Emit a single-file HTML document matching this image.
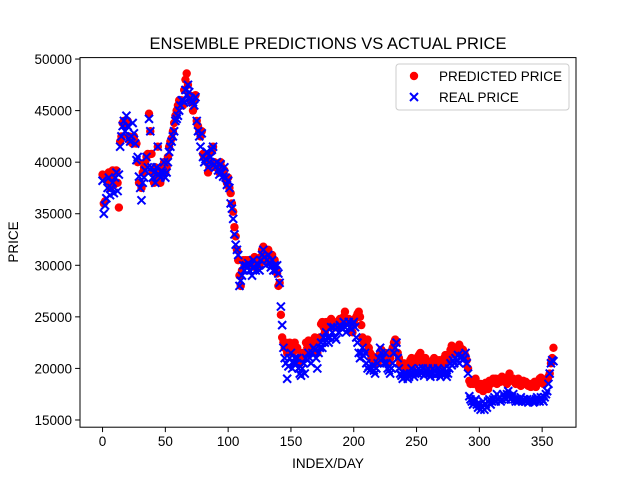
<!DOCTYPE html>
<html><head><meta charset="utf-8"><style>
body{margin:0;background:#fff;}
svg{display:block;font-family:"Liberation Sans","DejaVu Sans",sans-serif;}
</style></head><body>
<svg id="chart" width="640" height="480">
<rect width="640" height="480" fill="#fff"/>
<text x="328" y="49" font-size="16.5" text-anchor="middle">ENSEMBLE PREDICTIONS VS ACTUAL PRICE</text>
<g id="plot"></g>
<g id="xticks"></g>
<g id="yticks"></g>
<rect x="80" y="57.6" width="496" height="369.6" fill="none" stroke="#000" stroke-width="1"/>
<text x="328" y="468" font-size="13.5" text-anchor="middle">INDEX/DAY</text>
<text x="18" y="242" font-size="13.5" text-anchor="middle" transform="rotate(-90 18 242)">PRICE</text>
<g>
<rect x="396" y="64" width="173" height="46" rx="3" fill="#fff" fill-opacity="0.8" stroke="#ccc"/>
<g>
<circle cx="414" cy="76" r="4.2" fill="#ff0000"/>
<text x="439" y="81" font-size="13.5">PREDICTED PRICE</text></g>
<g>
<path d="M410,93L418,101M418,93L410,101" stroke="#0000ff" stroke-width="2"/>
<text x="439" y="102" font-size="13.5">REAL PRICE</text></g>
</g>
</svg>
<script>
const xTicks=[0,50,100,150,200,250,300,350];
const yTicks=[15000,20000,25000,30000,35000,40000,45000,50000];
const predicted=[38.8,36,36.2,38.5,38,39,37.5,38.5,39.2,37.8,
39,39.2,38,35.6,42,42.5,43.8,44,43.5,44,
44,42.5,42,42,41.8,42.5,42,41.8,40,38,
38,37.5,39,39.5,40,40.5,40.8,44.7,43,40.8,
39,38,39.5,38.5,41.5,39,38,38.5,39.5,40,
39,39.5,40.5,41.5,42,42.3,43,43.8,44.5,45,
45.5,46,46,46,45.5,47,48,48.6,47.5,46.5,
46,45.8,45,46,46.5,44,43.5,43,42.5,43,
40.8,40.5,40.5,40,39,39.5,40,41,41.5,40,
39.5,39.8,39.5,39,40,39.5,39,39.2,38.5,38,
38.5,37.5,37,36,35.2,33.7,32.8,31.5,30.5,29,
28,29.5,30.5,30,30.5,30.2,30.5,30,30.5,30.2,
30.5,30.8,29.8,30.5,30.5,30,30.8,31.5,31.8,31.2,
30.5,31,31.5,30.5,30.5,31,30,30.5,29.5,29.2,
28,28.3,25.2,23,22.5,22,22.5,21.5,22,22.5,
22,21.5,22,22.5,21.8,22,21,20.5,20.8,21.5,
21,21.5,22.5,22,22.7,22,21.5,22,22.5,23,
22.5,21.5,22.8,23,24.3,24.5,24,23.5,24.5,24.3,
24,24.2,24.8,24.5,24.5,24,24,24.5,24.3,24.8,
24.5,24.3,25,25.5,24.8,24.5,24.8,24.5,24.3,23.5,
24.5,24.8,25,25.3,25.5,25,24.2,23,22.5,22.8,
22.5,22.8,22,21.5,21,21.2,21,20.5,20.8,20.5,
21,21.5,21.8,21.5,21,21.5,21,20.5,20.8,21,
21.5,22,22.5,22.8,22.5,21.5,21,20.5,20.5,20.2,
20.5,20.2,20,20.3,20.5,20.8,21,20.5,20.3,20.5,
21,20.8,21.3,21.5,21,20.5,20.8,21,20.5,20.3,
20.5,20.3,20.5,20.8,21,20.5,20.3,20.5,20.8,20.5,
20.3,20.5,21,21.3,21,20.8,21.2,21.8,22.2,22,
21.8,22,21.5,21.8,22.3,22,21.5,21.8,21.5,21.2,
20.8,20,18.8,18.5,18.7,18.5,18.9,19,18.6,18.3,
18,18.5,18.2,17.8,18.3,18.6,18.5,18,18.8,18.5,
18.7,19,18.8,19,18.5,18.8,19,18.7,19.2,19,
18.8,19,18.5,19.2,19.5,19,18.8,19,18.7,18.5,
18.8,19,18.5,18.3,18.6,18.8,18.5,18.7,18.5,18.3,
18.5,18.2,18.4,18.5,18.7,18.2,18.5,18.8,19,19.1,
18.8,18.5,18.6,18.8,19,19.2,19.5,20.5,21,22];
const real=[38.2,35,35.8,36.5,37.5,38.5,36.8,37.5,38,37,
38.5,39,37.2,38.8,41.5,42.5,43.5,44,43,44.5,
43.5,42.3,42,42.5,43.8,42.8,41.8,40.2,40.5,38.6,
37.5,36.3,38,38.5,39.2,40.5,39.5,44.2,43,39.5,
38.5,39,38,39.5,41.5,38.8,38.5,39.2,39,40,
38.5,39,40,41,41.5,42,42.5,43,44,44.2,
44.5,45,45.5,46,46,45.8,47,46.5,47.5,46.8,
46.2,46,45.8,45.5,46.3,44,43,42.5,41.5,42.8,
40.5,40,40.3,41,39.5,40,40.5,41.2,41.5,39.8,
39.5,40,39.2,38.8,39.8,39,38.6,39.5,38.5,37.8,
38.2,37.5,36,35.5,34.5,33,32,31.5,31,28,
28.5,29,30,29.5,30,29.8,30.2,29.5,30,29,
30.5,29.8,29.5,30.2,30,29.5,30.5,31,31.5,30.8,
30,30.5,31,30.2,29.8,30.5,29.5,30,29.5,30,
29.2,28.3,26,24.2,22,21,20.5,19,20.2,21,
21.5,20,20.5,21,20.5,21,20,19.5,19.3,20,
20.5,19.5,21,20.8,21.5,21,20.5,21.5,22,21.8,
21,20,21.5,22,22.5,22,23,22.5,23.5,23,
22.5,23,24,23.5,24,23,22.8,24,23.5,24.2,
24,23.8,24.5,24,23.5,24.2,24.5,24,23.8,24.3,
24.5,24,23,22.5,21.5,21,21.5,22,21.2,21.5,
20.5,20,20.2,19.8,20,20.3,19.8,19.5,20,20.5,
21,22,21.5,21,20.5,21.5,20.5,20,19.8,19.5,
20,20.5,21.5,22,22.5,21,20,19.5,19.3,19,
19.5,19.2,19.5,19,19.2,19.5,20,19.5,19.2,19.5,
19.8,19.5,20,19.8,19.5,20,19.3,19.5,19.8,20,
19.5,19.2,19.5,20,19.8,19.3,19.5,20,19.5,19.2,
19.5,19.8,20,19.5,19.2,19.5,20,20.5,20.3,20.8,
20.5,21,20.8,21.3,20.5,21,21.2,20.8,21,21.5,
20.5,19.5,17.3,17,16.8,16.5,16.8,17,16.5,16.2,
16.5,16,16.3,16.8,16,16.5,16.2,16.8,17,16.5,
16.8,17,17.2,16.8,17.5,17,17.2,16.8,17,17.5,
17.2,17,17.5,17.8,17.3,17,17.2,17.5,17,16.8,
17,16.8,17,17.2,16.8,17,16.9,16.8,17,16.7,
16.8,17,16.9,16.7,16.8,17,17.2,16.9,16.8,17.2,
17,16.8,17.2,17.5,17.8,18.5,19.5,20.5,20.8,20.7];

const NS='http://www.w3.org/2000/svg';
const L=80,R=576,T=57.6,B=427.2;
const n=predicted.length;
const xmin=-(n-1)*0.05,xmax=(n-1)*1.05;
const ymin=14300,ymax=50140;
function xs(i){return L+(i-xmin)/(xmax-xmin)*(R-L);}
function ys(v){return B-(v-ymin)/(ymax-ymin)*(B-T);}
function mk(t,a){const e=document.createElementNS(NS,t);for(const k in a)e.setAttribute(k,a[k]);return e;}
const plot=document.getElementById('plot');
predicted.forEach((v,i)=>{
 const c=mk('circle',{cx:xs(i),cy:ys(v*1000),r:4.2,fill:'#ff0000'});
 
 
 plot.appendChild(c);
});
real.forEach((v,i)=>{
 const x=xs(i),y=ys(v*1000),d=4;
 const p=mk('path',{d:`M${x-d},${y-d}L${x+d},${y+d}M${x+d},${y-d}L${x-d},${y+d}`,stroke:'#0000ff','stroke-width':2});
 
 
 plot.appendChild(p);
});
const xg=document.getElementById('xticks');
xTicks.forEach(t=>{
 const x=xs(t);
 const l=mk('line',{x1:x,x2:x,y1:B,y2:B+4.9,stroke:'#000'});
 
 
 xg.appendChild(l);
 const tx=mk('text',{x:x,y:B+19,'font-size':13.5,'text-anchor':'middle'});
 tx.textContent=t;
 
 
 xg.appendChild(tx);
});
const yg=document.getElementById('yticks');
yTicks.forEach(t=>{
 const y=ys(t);
 const l=mk('line',{x1:L-4.9,x2:L,y1:y,y2:y,stroke:'#000'});
 
 
 yg.appendChild(l);
 const tx=mk('text',{x:L-8,y:y+5,'font-size':13.5,'text-anchor':'end'});
 tx.textContent=t;
 
 
 yg.appendChild(tx);
});
</script>
</body></html>
